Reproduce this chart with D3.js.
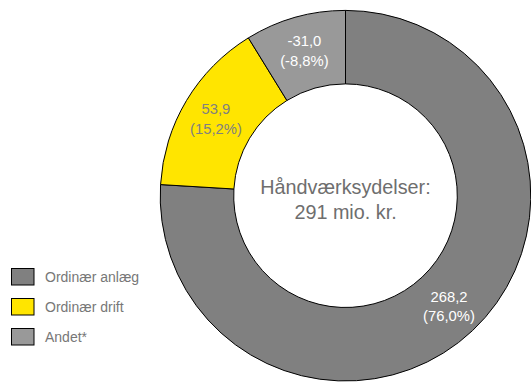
<!DOCTYPE html>
<html>
<head>
<meta charset="utf-8">
<script src="https://cdn.jsdelivr.net/npm/d3@7/dist/d3.min.js"></script>
<style>
  html, body { margin: 0; padding: 0; background: #fff; }
  svg { display: block; font-family: "Liberation Sans", Arial, Helvetica, sans-serif; }
</style>
</head>
<body>
<svg id="chart" width="531" height="382"></svg>
<script>
// Craft services split by category (mio. kr.)
const categories = ["Ordinær anlæg", "Ordinær drift", "Andet*"];
const values = [268.2, 53.9, -31.0];
const shares = [76.0, 15.2, -8.8];
const colors = ["#808080", "#FFE500", "#999999"];
const labelColors = ["#ffffff", "#808080", "#ffffff"];
const centerLines = ["Håndværksydelser:", "291 mio. kr."];

const svg = d3.select("#chart");
const cx = 345.5, cy = 195.7, outerR = 185.3, innerR = 111.8;

const fmt = v => d3.format(".1f")(v).replace(".", ",").replace("−", "-");

const data = categories.map((c, i) => ({ name: c, value: values[i], share: shares[i], color: colors[i], lc: labelColors[i] }));

// Slice sizes follow the magnitude of each value
const pie = d3.pie().sort(null).value(d => Math.abs(d.value));
const arc = d3.arc().innerRadius(innerR).outerRadius(outerR);
const labelArc = d3.arc().innerRadius(151).outerRadius(151);

const g = svg.append("g").attr("transform", `translate(${cx},${cy})`);
const arcs = pie(data);

g.selectAll("path.slice").data(arcs).join("path")
  .attr("class", "slice")
  .attr("d", arc)
  .attr("fill", d => d.data.color)
  .attr("stroke", "#000")
  .attr("stroke-width", 1);

const lab = g.selectAll("text.lab").data(arcs).join("text")
  .attr("class", "lab")
  .attr("text-anchor", "middle")
  .attr("font-size", 14.8)
  .attr("fill", d => d.data.lc)
  .attr("transform", d => { const [x, y] = labelArc.centroid(d); return `translate(${x},${y})`; });
lab.append("tspan").attr("x", 0).attr("y", -4).text(d => fmt(d.data.value));
lab.append("tspan").attr("x", 0).attr("y", 15.5).text(d => "(" + fmt(d.data.share) + "%)");

// Center title
const ct = g.append("text").attr("text-anchor", "middle").attr("font-size", 19.8).attr("fill", "#6e6e6e");
centerLines.forEach((t, i) => ct.append("tspan").attr("x", 0).attr("y", -2 + i * 25).text(t));

// Legend
const leg = svg.append("g").attr("transform", "translate(11,268)");
const item = leg.selectAll("g").data(data).join("g")
  .attr("transform", (d, i) => `translate(0,${i * 30})`);
item.append("rect").attr("x", 0.5).attr("y", 0.5).attr("width", 22.5).attr("height", 16.5)
  .attr("fill", d => d.color).attr("stroke", "#000").attr("stroke-width", 1);
item.append("text").attr("x", 34).attr("y", 14).attr("font-size", 14).attr("fill", "#777")
  .text(d => d.name);
</script>
</body>
</html>
